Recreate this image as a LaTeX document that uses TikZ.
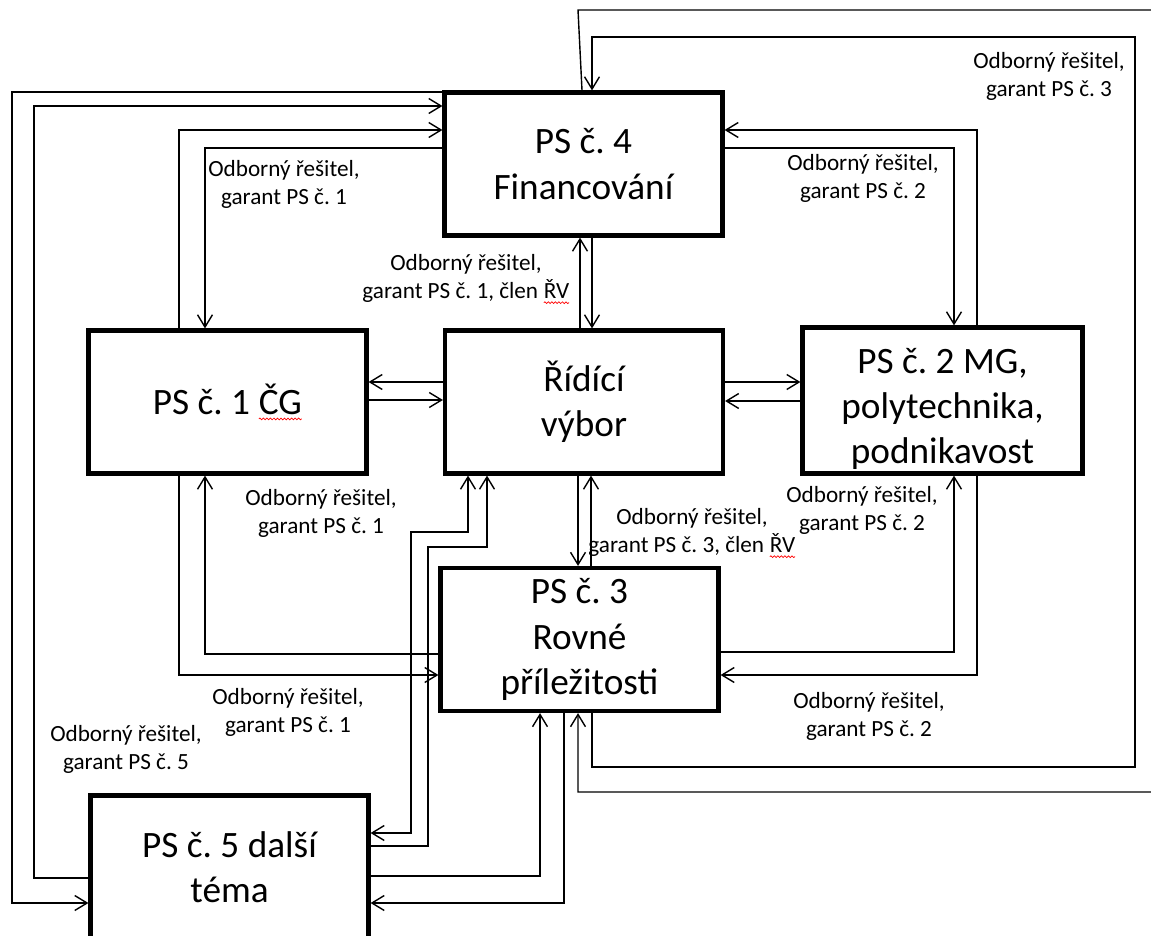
\documentclass[tikz,border=0pt]{standalone}
\usepackage{fontspec}
\setmainfont{Carlito}
\frenchspacing
\usetikzlibrary{arrows.meta, decorations.pathmorphing}
\newcommand{\bigfont}{\fontsize{21.2}{25.8}\selectfont}
\newcommand{\notefont}{\fontsize{13.2}{15.9}\selectfont}
\newcommand{\spellwave}[1]{\tikz[baseline=(sw.base)]{
    \node[draw=none, inner sep=0pt, outer sep=0pt, minimum size=0pt] (sw)
        {#1};
    \draw[red, line width=0.4pt, decorate, decoration={snake,
        amplitude=0.5pt, segment length=2pt}]
        ([yshift=-2.6pt]sw.base west) -- ([yshift=-2.6pt]sw.base east);}}
\tikzset{
    panel/.style={draw, line width=2.4pt, minimum width=5.56cm,
        minimum height=2.86cm, align=center, font=\bigfont, inner sep=0pt},
    link/.style={draw, line width=0.8pt},
    note/.style={align=center, font=\notefont, inner sep=0pt},
}

\begin{document}
\begin{tikzpicture}[x=0.02cm, y=-0.02cm,
        >={Straight Barb[length=7pt, width=8.5pt]}]
    \useasboundingbox (0,0) rectangle (1151,935);
    \clip (0,0) rectangle (1151,935);
    \node[panel] (fin) at (583.5,164) {PS č. 4\\Financování};
    \node[panel] (rv) at (584,402) {Řídící\\výbor};
    \node[panel] (cg) at (227.5,402) {PS č. 1 \spellwave{ČG}};
    \node[panel, minimum width=5.6cm, minimum height=2.92cm] (mg)
        at (942.5,400.5)
        {\rule{0pt}{24pt}PS č. 2 MG,\\polytechnika,\\podnikavost};
    \node[panel] (rovne) at (579.5,639.5) {PS č. 3\\Rovné\\příležitosti};
    \node[panel] (dalsi) at (229.5,867) {PS č. 5 další\\téma};

    \draw[link, ->] (fin.north -| 582,0) -- (578,10) -- (1156,10)
        -- (1156,792) -- (578,792) -- (rovne.south -| 578,0);
    \draw[link, ->] (rovne.south -| 592,0) -- (592,767) -- (1135,767)
        -- (1135,37) -- (592,37) -- (fin.north -| 592,0);
    \draw[link, ->] (fin.west |- 0,92) -- (12,92) -- (12,903)
        -- (dalsi.west |- 0,903);
    \draw[link, ->] (dalsi.west |- 0,878) -- (34,878) -- (34,106)
        -- (fin.west |- 0,106);
    \draw[link, ->] (cg.north -| 179,0) -- (179,130) -- (fin.west |- 0,130);
    \draw[link, ->] (fin.west |- 0,148) -- (205,148) -- (cg.north -| 205,0);
    \draw[link, ->] (mg.north -| 977,0) -- (977,130) -- (fin.east |- 0,130);
    \draw[link, ->] (fin.east |- 0,148) -- (954,148) -- (mg.north -| 954,0);
    \draw[link, ->] (rv.north -| 580,0) -- (fin.south -| 580,0);
    \draw[link, ->] (fin.south -| 592,0) -- (rv.north -| 592,0);
    \draw[link, ->] (rv.west |- 0,382) -- (cg.east |- 0,382);
    \draw[link, ->] (cg.east |- 0,400) -- (rv.west |- 0,400);
    \draw[link, ->] (rv.east |- 0,382) -- (mg.west |- 0,382);
    \draw[link, ->] (mg.west |- 0,401) -- (rv.east |- 0,401);
    \draw[link, ->] (rv.south -| 578,0) -- (rovne.north -| 578,0);
    \draw[link, ->] (rovne.north -| 591,0) -- (rv.south -| 591,0);
    \draw[link, <->] (rv.south -| 468,0) -- (468,532) -- (411,532)
        -- (411,833) -- (dalsi.east |- 0,833);
    \draw[link, ->] (dalsi.east |- 0,846) -- (428,846) -- (428,547)
        -- (487,547) -- (rv.south -| 487,0);
    \draw[link, ->] (cg.south -| 179,0) -- (179,675) -- (rovne.west |- 0,675);
    \draw[link, ->] (rovne.west |- 0,654) -- (205,654) -- (cg.south -| 205,0);
    \draw[link, ->] (rovne.east |- 0,652) -- (954,652) -- (mg.south -| 954,0);
    \draw[link, ->] (mg.south -| 977,0) -- (977,675) -- (rovne.east |- 0,675);
    \draw[link, ->] (dalsi.east |- 0,876) -- (540,876) -- (rovne.south -| 540,0);
    \draw[link, ->] (rovne.south -| 564,0) -- (564,903) -- (dalsi.east |- 0,903);

    \node[note] (finnote) at (284,184) {Odborný řešitel,\\garant PS č. 1};
    \node[note] (finmg) at (863,178) {Odborný řešitel,\\garant PS č. 2};
    \node[note] (loopnote) at (1049,76.5) {Odborný řešitel,\\garant PS č. 3};
    \node[note] (rvtop) at (466,279)
        {Odborný řešitel,\\garant PS č. 1, člen \spellwave{ŘV}};
    \node[note] (cgnote) at (321,513) {Odborný řešitel,\\garant PS č. 1};
    \node[note] (rvbottom) at (692,533)
        {Odborný řešitel,\\garant PS č. 3, člen \spellwave{ŘV}};
    \node[note] (mgnote) at (862,510.5) {Odborný řešitel,\\garant PS č. 2};
    \node[note] (rovnecg) at (288,712.5) {Odborný řešitel,\\garant PS č. 1};
    \node[note] (dalsinote) at (126,749.5) {Odborný řešitel,\\garant PS č. 5};
    \node[note] (rovnemg) at (869,716.5) {Odborný řešitel,\\garant PS č. 2};
\end{tikzpicture}
\end{document}
